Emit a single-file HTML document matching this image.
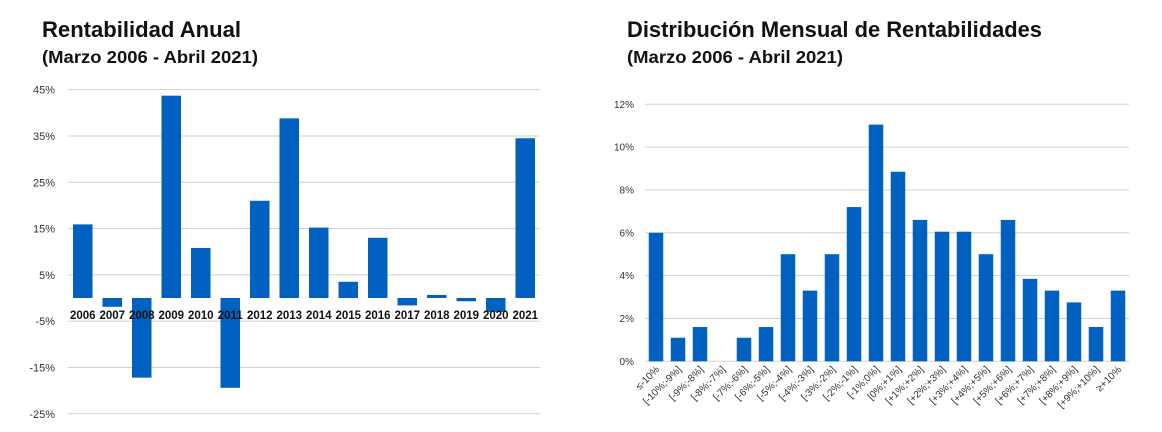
<!DOCTYPE html>
<html><head><meta charset="utf-8"><style>
html,body{margin:0;padding:0;background:#fff;}
svg{display:block;font-family:"Liberation Sans",Arial,sans-serif;}
</style></head><body>
<svg id="c" width="1162" height="432" viewBox="0 0 1162 432">
<text x="42" y="37" font-size="22" font-weight="bold" fill="#111" textLength="199" lengthAdjust="spacingAndGlyphs">Rentabilidad Anual</text>
<text x="42" y="63" font-size="17.5" font-weight="bold" fill="#111" textLength="216" lengthAdjust="spacingAndGlyphs">(Marzo 2006 - Abril 2021)</text>
<text x="627" y="37" font-size="22" font-weight="bold" fill="#111" textLength="415" lengthAdjust="spacingAndGlyphs">Distribución Mensual de Rentabilidades</text>
<text x="627" y="63" font-size="17.5" font-weight="bold" fill="#111" textLength="216" lengthAdjust="spacingAndGlyphs">(Marzo 2006 - Abril 2021)</text>
<g id="left"></g><g id="right"></g>
</svg>
<script>
const years=["2006","2007","2008","2009","2010","2011","2012","2013","2014","2015","2016","2017","2018","2019","2020","2021"];
const annualValues=[15.9,-1.9,-17.2,43.7,10.8,-19.4,21,38.8,15.2,3.5,13,-1.6,0.65,-0.7,-3,34.5];
const annualTicks=[45,35,25,15,5,-5,-15,-25];
const bins=["≤-10%","[-10%;-9%]","[-9%;-8%]","[-8%;-7%]","[-7%;-6%]","[-6%;-5%]","[-5%;-4%]","[-4%;-3%]","[-3%;-2%]","[-2%;-1%]","[-1%;0%]","[0%;+1%]","[+1%;+2%]","[+2%;+3%]","[+3%;+4%]","[+4%;+5%]","[+5%;+6%]","[+6%;+7%]","[+7%;+8%]","[+8%;+9%]","[+9%;+10%]","≥+10%"];
const binValues=[6.0,1.1,1.6,0,1.1,1.6,5.0,3.3,5.0,7.2,11.05,8.85,6.6,6.05,6.05,5.0,6.6,3.85,3.3,2.75,1.6,3.3];
const binTicks=[0,2,4,6,8,10,12];
const NS="http://www.w3.org/2000/svg";
function mk(tag,attrs,parent,txt){const e=document.createElementNS(NS,tag);for(const k in attrs)e.setAttribute(k,attrs[k]);if(txt!==undefined)e.textContent=txt;parent.appendChild(e);return e;}
const BLUE="#0061c1";
(function(){
const g=document.getElementById('left');
const x0=68,x1=540,yv=v=>298-v*4.63,band=(x1-x0)/years.length;
annualTicks.forEach(t=>{
 const y=yv(t);
 const l=mk('line',{x1:x0,x2:x1,y1:y,y2:y,stroke:'#d0d0d0','stroke-width':1},g);
 
 
 const tx=mk('text',{x:55,y:y+4,'font-size':11,fill:'#333','text-anchor':'end'},g,t+'%');
 
 
});
annualValues.forEach((v,i)=>{
 const cx=x0+band*(i+0.5),w=19.5,y=yv(Math.max(v,0)),h=Math.abs(yv(v)-yv(0));
 const r=mk('rect',{x:cx-w/2,y:y,width:w,height:h,fill:BLUE},g);
 
 
});
years.forEach((yr,i)=>{
 const cx=x0+band*(i+0.5);
 const t=mk('text',{x:cx,y:319,'font-size':11.5,'font-weight':'bold',fill:'#111','text-anchor':'middle'},g,yr);
 
 
});
})();
(function(){
const g=document.getElementById('right');
const x0=645,x1=1129,yv=v=>361.3-v*21.42,band=(x1-x0)/bins.length;
binTicks.forEach(t=>{
 const y=yv(t);
 const l=mk('line',{x1:x0,x2:x1,y1:y,y2:y,stroke:'#d0d0d0','stroke-width':1},g);
 
 
 const tx=mk('text',{x:634,y:y+3.5,'font-size':10,fill:'#333','text-anchor':'end'},g,t+'%');
 
 
});
binValues.forEach((v,i)=>{
 const cx=x0+band*(i+0.5),w=14.5;
 const r=mk('rect',{x:cx-w/2,y:yv(v),width:w,height:yv(0)-yv(v),fill:BLUE},g);
 
 
});
bins.forEach((b,i)=>{
 const cx=x0+band*(i+0.5)+4;
 const t=mk('text',{x:cx,y:370,'font-size':10,fill:'#333','text-anchor':'end',transform:`rotate(-45 ${cx} 370)`},g,b);
 
 
});
})();
</script>
</body></html>
